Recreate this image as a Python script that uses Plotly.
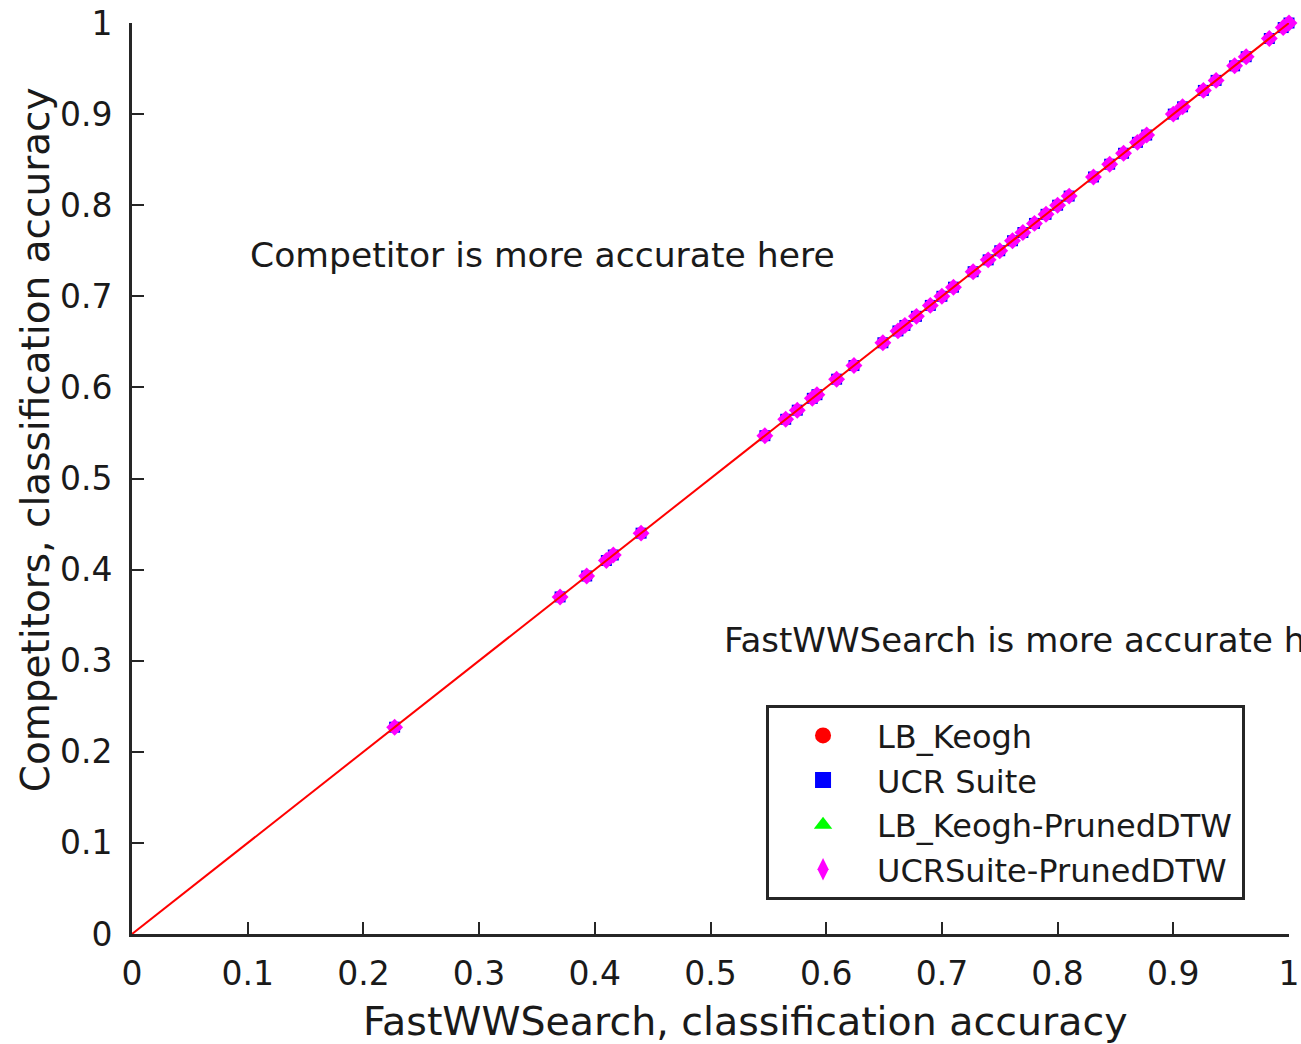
import plotly.graph_objects as go

# Classification accuracy (all methods give identical accuracy)
fastww_acc = [0.227, 0.370, 0.393, 0.410, 0.416, 0.440, 0.547, 0.565, 0.575, 0.588,
              0.592, 0.609, 0.624, 0.649, 0.662, 0.668, 0.678, 0.690, 0.700, 0.710,
              0.727, 0.740, 0.750, 0.761, 0.770, 0.780, 0.790, 0.800, 0.810, 0.831,
              0.845, 0.857, 0.869, 0.877, 0.900, 0.908, 0.926, 0.937, 0.953, 0.963,
              0.983, 0.995, 1.000]
lb_keogh_acc = [0.227, 0.370, 0.393, 0.410, 0.416, 0.440, 0.547, 0.565, 0.575, 0.588,
                0.592, 0.609, 0.624, 0.649, 0.662, 0.668, 0.678, 0.690, 0.700, 0.710,
                0.727, 0.740, 0.750, 0.761, 0.770, 0.780, 0.790, 0.800, 0.810, 0.831,
                0.845, 0.857, 0.869, 0.877, 0.900, 0.908, 0.926, 0.937, 0.953, 0.963,
                0.983, 0.995, 1.000]
ucr_suite_acc = list(lb_keogh_acc)
lb_keogh_pruned_acc = list(lb_keogh_acc)
ucrsuite_pruned_acc = list(lb_keogh_acc)

series_names = ["LB_Keogh", "UCR Suite", "LB_Keogh-PrunedDTW", "UCRSuite-PrunedDTW"]
series_colors = ["#ff0000", "#0000ff", "#00ff00", "#ff00ff"]
series_symbols = ["circle", "square", "triangle-up", "diamond"]
legend_symbols = ["circle", "square", "triangle-up", "diamond-tall"]
series_sizes = [9, 11, 11, 13]
series_values = [lb_keogh_acc, ucr_suite_acc, lb_keogh_pruned_acc, ucrsuite_pruned_acc]
diag = [0, 1]

tick_vals = [0, 0.1, 0.2, 0.3, 0.4, 0.5, 0.6, 0.7, 0.8, 0.9, 1]
tick_text = ["0", "0.1", "0.2", "0.3", "0.4", "0.5", "0.6", "0.7", "0.8", "0.9", "1"]

FONT = "DejaVu Sans"
AX = "#262626"
TXT = "#1a1a1a"

fig = go.Figure()
for name, col, sym, sz, vals in zip(series_names, series_colors, series_symbols,
                                     series_sizes, series_values):
    fig.add_trace(go.Scatter(x=fastww_acc, y=vals, mode="markers", showlegend=False,
                             marker=dict(color=col, symbol=sym, size=sz, line=dict(width=0)),
                             cliponaxis=False, hoverinfo="skip"))
# diagonal reference line
fig.add_trace(go.Scatter(x=diag, y=diag, mode="lines", showlegend=False,
                         line=dict(color="#ff0000", width=2), cliponaxis=False))
# legend entries (a trailing no-break space widens the box like the reference)
for i, (name, col, sym) in enumerate(zip(series_names, series_colors, legend_symbols)):
    label = name + ("\u00a0" if i == len(series_names) - 1 else "")
    fig.add_trace(go.Scatter(x=[None], y=[None], mode="markers", name=label,
                             marker=dict(color=col, symbol=sym, size=20, line=dict(width=0))))

axis_common = dict(range=[0, 1], tickvals=tick_vals, ticktext=tick_text, automargin=False,
                   showgrid=False, zeroline=False, showline=True, linecolor=AX, linewidth=3,
                   ticks="inside", ticklen=12, tickwidth=2, tickcolor=AX,
                   tickfont=dict(family=FONT, size=33, color=TXT), fixedrange=True)

fig.update_layout(
    width=1301, height=1044,
    margin=dict(l=132, r=12, t=23, b=110),
    paper_bgcolor="white", plot_bgcolor="white",
    xaxis=dict(**axis_common, ticklabelstandoff=8),
    yaxis=dict(**axis_common, ticklabelstandoff=10),
    showlegend=True,
    legend=dict(x=0.548, y=0.2512, xanchor="left", yanchor="top",
                bgcolor="white", bordercolor=AX, borderwidth=3,
                font=dict(family=FONT, size=32, color=TXT),
                itemwidth=98, tracegroupgap=0),
    annotations=[
        dict(text="Competitor is more accurate here", x=0.1003, y=0.745,
             xref="paper", yref="paper", xanchor="left", yanchor="middle",
             showarrow=False, font=dict(family=FONT, size=34.6, color=TXT)),
        dict(text="FastWWSearch is more accurate here", x=0.5100, y=0.3227,
             xref="paper", yref="paper", xanchor="left", yanchor="middle",
             showarrow=False, font=dict(family=FONT, size=34, color=TXT)),
        dict(text="FastWWSearch, classification accuracy", x=0.530, y=-0.0955,
             xref="paper", yref="paper", xanchor="center", yanchor="middle",
             showarrow=False, font=dict(family=FONT, size=39.5, color=TXT)),
        dict(text="Competitors, classification accuracy", x=-0.0838, y=0.542,
             xref="paper", yref="paper", xanchor="center", yanchor="middle",
             textangle=-90, showarrow=False,
             font=dict(family=FONT, size=39, color=TXT)),
    ],
)

fig.write_html("out.html")
